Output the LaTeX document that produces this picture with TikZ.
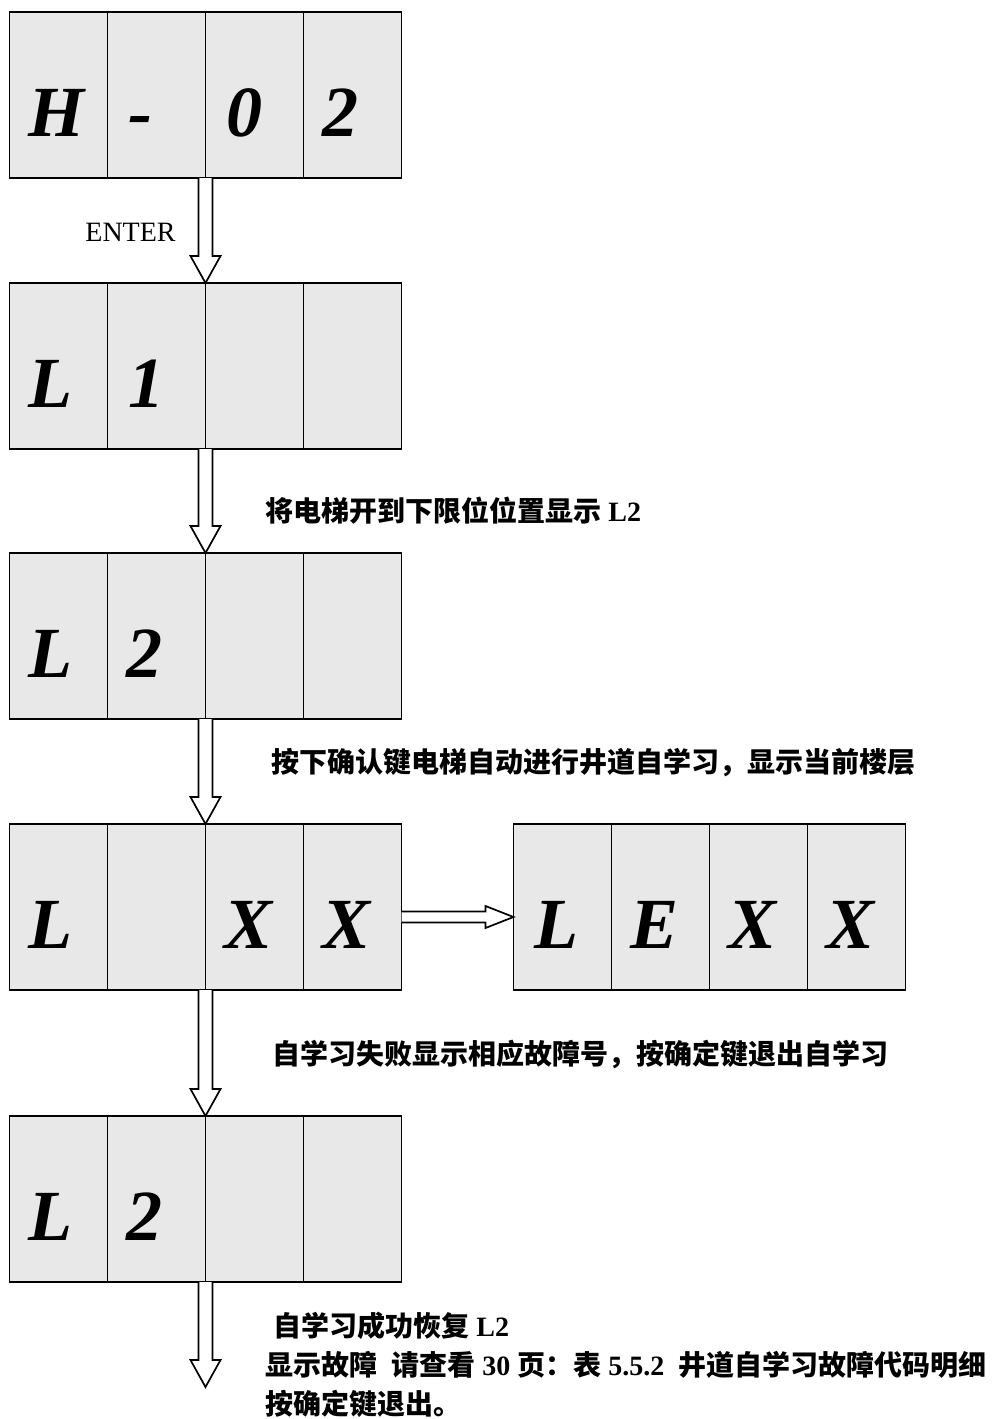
\documentclass[tikz,border=0pt]{standalone}
\usepackage{fontspec}
\setmainfont{Liberation Serif}
\newfontfamily\cjk{Noto Sans CJK SC}
\usetikzlibrary{calc}
\definecolor{cellgray}{RGB}{232,232,232}
\tikzset{
  cell/.style={draw=black, line width=0.85pt, fill=cellgray, minimum width=49pt, minimum height=83pt, inner sep=0pt, outer sep=0pt},
  glyph/.style={anchor=base west, inner sep=0pt, font=\fontsize{36}{40}\selectfont\bfseries\itshape},
  lbl/.style={anchor=base west, inner sep=0pt, font=\fontsize{14}{16}\selectfont},
  hollow/.style={draw=black, line width=0.85pt, fill=white, line join=miter}
}
\newcommand\flowdown[2]{%
  \draw[hollow] let \p1=(#1), \p2=(#2) in
    (\x1-3.5pt,\y1) -- (\x1-3.5pt,\y2+13.5pt) -- (\x1-7.5pt,\y2+13.5pt) -- (\x1,\y2)
    -- (\x1+7.5pt,\y2+13.5pt) -- (\x1+3.5pt,\y2+13.5pt) -- (\x1+3.5pt,\y1);}
\newcommand\flowright[2]{%
  \draw[hollow] let \p1=(#1), \p2=(#2) in
    (\x1,\y1+2.75pt) -- (\x2-14pt,\y1+2.75pt) -- (\x2-14pt,\y1+5.5pt) -- (\x2,\y1)
    -- (\x2-14pt,\y1-5.5pt) -- (\x2-14pt,\y1-2.75pt) -- (\x1,\y1-2.75pt);}
\begin{document}
\begin{tikzpicture}[x=0.5pt,y=-0.5pt]
\useasboundingbox (0,0) rectangle (991,1419);
% rows of cells
\foreach \r/\cy in {1/95,2/366,3/636,4/907,5/1199}{
  \foreach \c/\cx in {1/58.5,2/156.5,3/254.5,4/352.5}{
    \node[cell] (r\r c\c) at (\cx,\cy) {};
  }
}
\foreach \c/\cx in {1/562.5,2/660.5,3/758.5,4/856.5}{
  \node[cell] (qc\c) at (\cx,907) {};
}
% glyphs
\node[glyph] (g11) at ($(r1c1.north west)+(19,124)$) {H};
\node[glyph] (g12) at ($(r1c2.north west)+(21,124)$) {-};
\node[glyph] (g13) at ($(r1c3.north west)+(21,124)$) {0};
\node[glyph] (g14) at ($(r1c4.north west)+(19,124)$) {2};
\node[glyph] (g21) at ($(r2c1.north west)+(19,124)$) {L};
\node[glyph] (g22) at ($(r2c2.north west)+(21,124)$) {1};
\node[glyph] (g31) at ($(r3c1.north west)+(19,124)$) {L};
\node[glyph] (g32) at ($(r3c2.north west)+(19,124)$) {2};
\node[glyph] (g41) at ($(r4c1.north west)+(19,124)$) {L};
\node[glyph] (g43) at ($(r4c3.north west)+(19,124)$) {X};
\node[glyph] (g44) at ($(r4c4.north west)+(19,124)$) {X};
\node[glyph] (q1) at ($(qc1.north west)+(21,124)$) {L};
\node[glyph] (q2) at ($(qc2.north west)+(19,124)$) {E};
\node[glyph] (q3) at ($(qc3.north west)+(19,124)$) {X};
\node[glyph] (q4) at ($(qc4.north west)+(19,124)$) {X};
\node[glyph] (g51) at ($(r5c1.north west)+(19,124)$) {L};
\node[glyph] (g52) at ($(r5c2.north west)+(19,124)$) {2};
% connectors
\flowdown{r1c2.south east}{r2c2.north east}
\flowdown{r2c2.south east}{r3c2.north east}
\flowdown{r3c2.south east}{r4c2.north east}
\flowdown{r4c2.south east}{r5c2.north east}
\coordinate (endA) at ($(r5c2.south east)+(0,105)$);
\flowdown{r5c2.south east}{endA}
\coordinate (hs) at ($(r4c4.east)+(0,10)$);
\coordinate (he) at ($(qc1.west)+(0,10)$);
\flowright{hs}{he}
% labels
\node[lbl] (enter) at (85,241) {ENTER};
\node[lbl] (t1) at (265,521) {{\cjk\bfseries 将电梯开到下限位位置显示} \textbf{L2}};
\node[lbl] (t2) at (271,772) {{\cjk\bfseries 按下确认键电梯自动进行井道自学习，显示当前楼层}};
\node[lbl] (t3) at (272,1064) {{\cjk\bfseries 自学习失败显示相应故障号，按确定键退出自学习}};
\node[lbl] (t4) at (273,1336) {{\cjk\bfseries 自学习成功恢复} \textbf{L2}};
\node[lbl] (t5) at (265,1375) {{\cjk\bfseries 显示故障}\ \ {\cjk\bfseries 请查看} \textbf{30} {\cjk\bfseries 页：表} \textbf{5.5.2}\ \ {\cjk\bfseries 井道自学习故障代码明细}};
\node[lbl] (t6) at (265,1414) {{\cjk\bfseries 按确定键退出。}};
\end{tikzpicture}
\end{document}
